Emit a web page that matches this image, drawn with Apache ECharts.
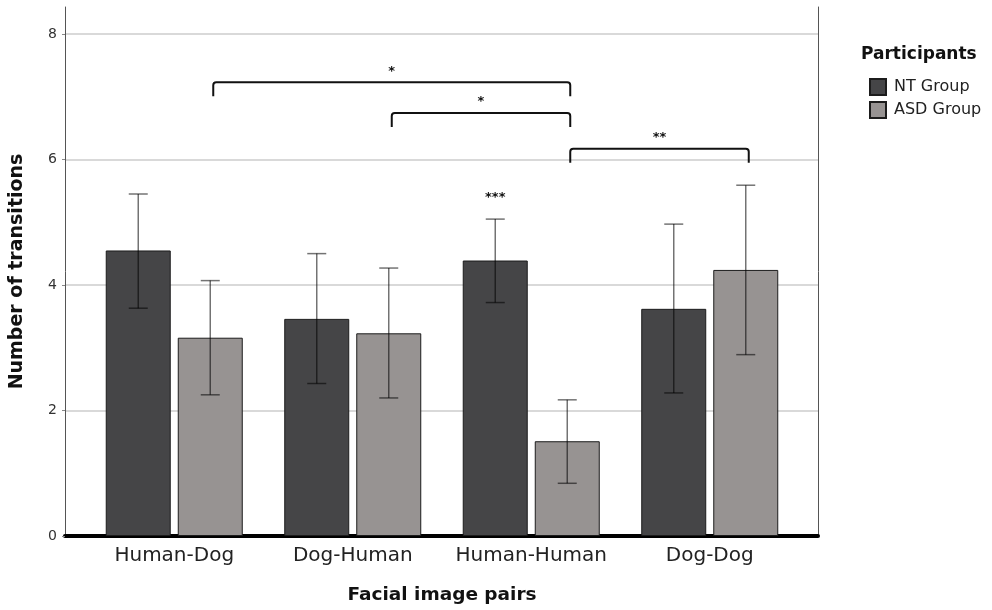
<!DOCTYPE html>
<html><head><meta charset="utf-8">
<script src="https://cdn.jsdelivr.net/npm/echarts@6/dist/echarts.min.js"></script>
<style>html,body{margin:0;padding:0;background:#fff}#c{width:992px;height:610px}</style>
</head><body><div id="c"></div>
<script>
// ---- data ----
const categories = ['Human-Dog', 'Dog-Human', 'Human-Human', 'Dog-Dog'];
const seriesNames = ['NT Group', 'ASD Group'];
const ntMean  = [4.55, 3.46, 4.39, 3.62];
const ntLow   = [3.63, 2.43, 3.72, 2.28];
const ntHigh  = [5.45, 4.50, 5.05, 4.97];
const asdMean = [3.16, 3.23, 1.51, 4.24];
const asdLow  = [2.25, 2.20, 0.84, 2.89];
const asdHigh = [4.07, 4.27, 2.17, 5.59];
const yMin = 0, yMax = 8.43, yInterval = 2;
// significance brackets between ASD bars: [fromCategory, toCategory, level]
const bracketPairs = [[0, 2], [1, 2], [2, 3]];
const bracketLevels = [7.23, 6.74, 6.17];
const bracketLabels = ['*', '*', '**'];
// single-bar annotation above NT Human-Human
const noteCategory = [2];
const noteLevel = [5.40];
const noteLabel = ['***'];

// ---- styles ----
const FONT = 'DejaVu Sans';
const BAR_W = 65, BAR_GAP_PX = 7;
const HALF = (BAR_W + BAR_GAP_PX) / 2;
const ERR_STYLE = { stroke: 'rgba(0,0,0,0.55)', lineWidth: 1.5 };
const CAP = 9.5;

function errRender(sign) {
  return function (params, api) {
    const c = api.value(0);
    const lo = api.coord([c, api.value(1)]);
    const hi = api.coord([c, api.value(2)]);
    const x = lo[0] + sign * HALF;
    return { type: 'group', children: [
      { type: 'line', shape: { x1: x, y1: lo[1], x2: x, y2: hi[1] }, style: ERR_STYLE },
      { type: 'line', shape: { x1: x - CAP, y1: hi[1], x2: x + CAP, y2: hi[1] }, style: ERR_STYLE },
      { type: 'line', shape: { x1: x - CAP, y1: lo[1], x2: x + CAP, y2: lo[1] }, style: ERR_STYLE }
    ]};
  };
}

function bracketRender(params, api) {
  const a = api.coord([api.value(0), api.value(2)]);
  const b = api.coord([api.value(1), api.value(2)]);
  const x1 = a[0] + HALF + 3, x2 = b[0] + HALF + 3, y = a[1], leg = 14, r = 3;
  const d = `M${x1} ${y + leg} L${x1} ${y + r} Q${x1} ${y} ${x1 + r} ${y} L${x2 - r} ${y} Q${x2} ${y} ${x2} ${y + r} L${x2} ${y + leg}`;
  return { type: 'group', children: [
    { type: 'path', shape: { pathData: d }, style: { fill: 'none', stroke: '#111', lineWidth: 2 } },
    { type: 'text', style: { text: bracketLabels[params.dataIndex], x: (x1 + x2) / 2, y: y - 11,
      align: 'center', verticalAlign: 'middle', font: `bold 13px "${FONT}"`, fill: '#111' } }
  ]};
}

function noteRender(params, api) {
  const p = api.coord([api.value(0), api.value(1)]);
  return { type: 'text', style: { text: noteLabel[params.dataIndex], x: p[0] - HALF, y: p[1],
    align: 'center', verticalAlign: 'middle', font: `bold 13px "${FONT}"`, fill: '#111' } };
}

const chart = echarts.init(document.getElementById('c'), null, { renderer: 'canvas' });
chart.setOption({
  animation: false,
  backgroundColor: '#fff',
  textStyle: { fontFamily: FONT },
  title: { text: 'Participants', left: 861, top: 46, padding: 0,
    textStyle: { fontSize: 17, fontWeight: 'bold', color: '#111', fontFamily: FONT } },
  legend: { orient: 'vertical', left: 864, top: 73, itemWidth: 16, itemHeight: 16, itemGap: 5,
    data: seriesNames, icon: 'rect',
    textStyle: { fontSize: 16, color: '#222', fontFamily: FONT, padding: [0, 0, 0, 3] } },
  grid: [
    { left: 65, right: 174, top: 7, bottom: 74 },
    { left: 85, right: 193, top: 7, bottom: 74 }
  ],
  xAxis: [
    { gridIndex: 0, type: 'value', min: 0, max: 1,
      axisLine: { show: true, lineStyle: { color: '#000', width: 4 } },
      axisTick: { show: false }, axisLabel: { show: false }, splitLine: { show: false } },
    { gridIndex: 1, type: 'category', data: categories,
      axisLine: { show: false }, axisTick: { show: false },
      axisLabel: { interval: 0, fontSize: 20, color: '#222', margin: 10, fontFamily: FONT },
      name: 'Facial image pairs', nameLocation: 'middle', nameGap: 50,
      nameTextStyle: { fontSize: 18.5, fontWeight: 'bold', color: '#111', fontFamily: FONT } }
  ],
  yAxis: [
    { gridIndex: 0, type: 'value', min: yMin, max: yMax, interval: yInterval,
      axisLine: { show: true, lineStyle: { color: '#555', width: 1 } },
      axisTick: { show: true, length: 3, lineStyle: { color: '#888' } },
      axisLabel: { fontSize: 14, color: '#333', margin: 8, showMaxLabel: false, fontFamily: FONT },
      splitLine: { show: true, showMaxLine: false, lineStyle: { color: '#cccccc', width: 1.5 } },
      name: 'Number of transitions', nameLocation: 'middle', nameGap: 38,
      nameTextStyle: { fontSize: 19, fontWeight: 'bold', color: '#111', fontFamily: FONT } },
    { gridIndex: 0, type: 'value', position: 'right', min: yMin, max: yMax, interval: yInterval,
      axisLine: { show: true, lineStyle: { color: '#555', width: 1 } },
      axisTick: { show: false }, axisLabel: { show: false }, splitLine: { show: false } },
    { gridIndex: 1, type: 'value', min: yMin, max: yMax, interval: yInterval, show: false,
      splitLine: { show: false } }
  ],
  series: [
    { name: seriesNames[0], type: 'bar', xAxisIndex: 1, yAxisIndex: 2, data: ntMean,
      barWidth: BAR_W, barGap: (BAR_GAP_PX / BAR_W * 100).toFixed(1) + '%',
      itemStyle: { color: '#454547', borderColor: '#1c1c1c', borderWidth: 1 } },
    { name: seriesNames[1], type: 'bar', xAxisIndex: 1, yAxisIndex: 2, data: asdMean,
      barWidth: BAR_W,
      itemStyle: { color: '#979392', borderColor: '#1c1c1c', borderWidth: 1 } },
    { type: 'custom', xAxisIndex: 1, yAxisIndex: 2, z: 5, renderItem: errRender(-1),
      encode: { x: 0, y: [1, 2] },
      data: categories.map((c, i) => [i, ntLow[i], ntHigh[i]]) },
    { type: 'custom', xAxisIndex: 1, yAxisIndex: 2, z: 5, renderItem: errRender(1),
      encode: { x: 0, y: [1, 2] },
      data: categories.map((c, i) => [i, asdLow[i], asdHigh[i]]) },
    { type: 'custom', xAxisIndex: 1, yAxisIndex: 2, z: 6, renderItem: bracketRender,
      encode: { x: [0, 1], y: 2 },
      data: bracketPairs.map((p, i) => [p[0], p[1], bracketLevels[i]]) },
    { type: 'custom', xAxisIndex: 1, yAxisIndex: 2, z: 6, renderItem: noteRender,
      encode: { x: 0, y: 1 },
      data: noteCategory.map((c, i) => [c, noteLevel[i]]) }
  ]
});
</script>
</body></html>
